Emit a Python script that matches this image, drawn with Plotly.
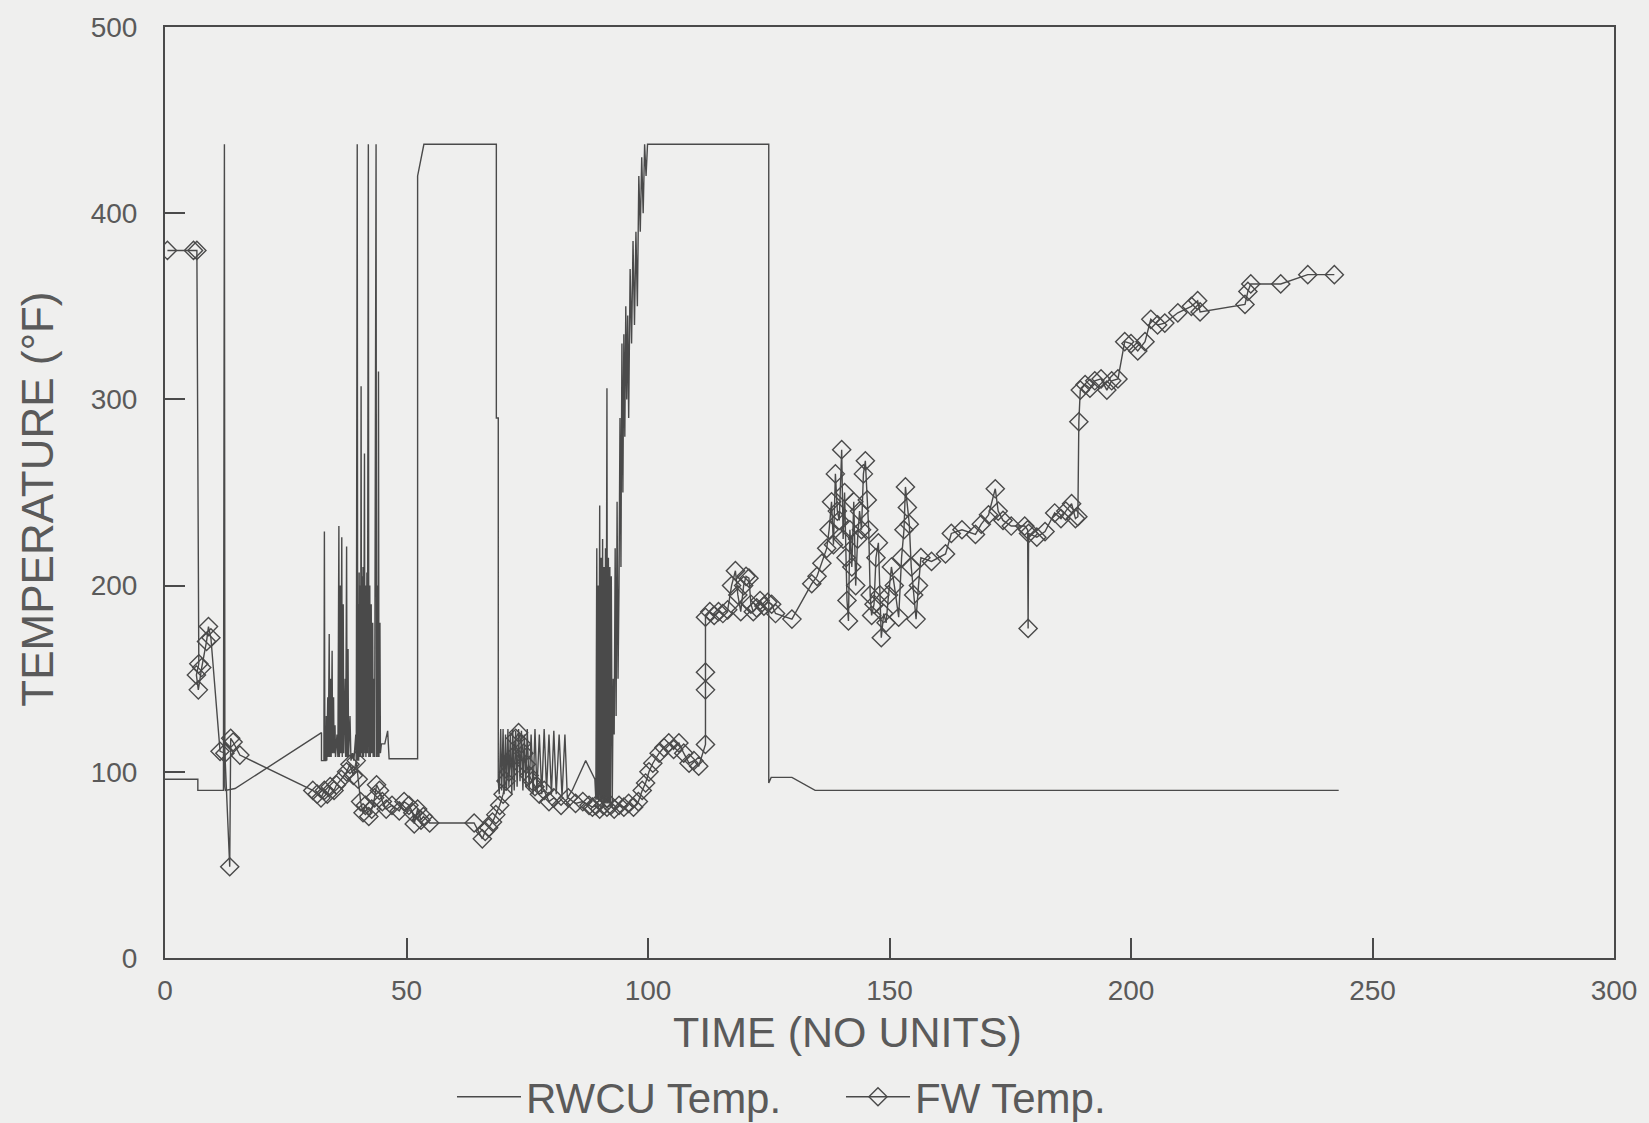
import plotly.graph_objects as go

# ---------------- data ----------------
rwcu_time = [
    0, 6.8, 6.8, 12.1, 12.1, 12.2, 12.3, 12.4, 12.5, 14.5, 32.4, 32.4,
    32.6, 32.9, 33.0, 33.1, 33.3, 33.4, 33.5, 33.7, 33.8, 34.0, 34.1, 34.3, 34.4, 34.6, 34.7,
    34.9, 35.0, 35.2, 35.3, 35.6, 35.8, 36.0, 36.1, 36.3, 36.4, 36.6, 36.7, 36.9, 37.0, 37.3,
    37.4, 37.6, 37.7, 37.9, 38.0, 38.3, 38.5, 38.8, 39.1, 39.5, 39.6,
    39.8, 39.9, 40.0, 40.1, 40.2, 40.3, 40.4, 40.5, 40.6, 40.7, 40.8, 40.9, 41.0, 41.1, 41.3,
    41.4, 41.5, 41.6, 41.8, 41.9, 42.1, 42.2, 42.4, 42.5, 42.7, 42.8, 43.0, 43.1, 43.3, 43.4,
    43.7, 43.8, 44.0, 44.1, 44.2, 44.3, 44.5, 44.6, 44.8,
    45.5, 46.1, 46.4, 52.3, 52.3, 53.0, 53.6, 68.6, 68.6, 69.0, 69.0, 69.2,
    69.5, 69.7, 70.0, 70.2, 70.5, 70.7, 71.0, 71.2, 71.5, 71.8, 72.0, 72.3, 72.6, 72.9, 73.2,
    73.5, 73.8, 74.1, 74.4, 74.7, 75.0, 75.4, 75.8, 76.2, 76.6, 77.0, 77.5, 78.0, 78.5, 79.0,
    79.5, 80.0, 80.5, 81.0, 81.6, 82.2, 82.8, 83.3, 84.3, 87.1, 89.0, 89.2,
    89.4, 89.5, 89.7, 89.8, 90.0, 90.1, 90.3, 90.4, 90.6, 90.7, 90.9, 91.0, 91.2, 91.3, 91.5,
    91.6, 91.8, 91.9, 92.1, 92.2, 92.4, 92.6,
    92.8, 93.0, 93.2, 93.4, 93.6, 93.8, 94.0, 94.2, 94.4, 94.6, 94.8, 95.0, 95.2, 95.4, 95.6,
    95.8, 96.0, 96.3, 96.6, 96.9, 97.2, 97.5, 97.8, 98.1, 98.4, 98.7, 99.0, 99.3, 99.6, 99.9,
    125.0, 125.0, 125.5, 129.8, 134.6, 243.0,
]
rwcu_temp = [
    96, 96, 90, 90, 93, 437, 437, 92, 90, 91, 121, 106,
    106, 106, 229, 106, 106, 130, 106, 140, 108, 174, 108, 150, 108, 165, 110,
    140, 110, 125, 108, 120, 108, 232, 108, 200, 110, 226, 108, 190, 110, 150,
    108, 221, 108, 166, 108, 130, 106, 110, 106, 120, 106,
    437, 106, 190, 106, 207, 108, 200, 108, 307, 110, 205, 108, 210, 108, 271,
    110, 200, 108, 207, 110, 437, 108, 200, 108, 190, 110, 180, 108, 150, 108,
    437, 108, 200, 108, 315, 108, 180, 110, 115,
    115, 122, 107, 107, 420, 430, 437, 437, 290, 290, 95, 88,
    123, 90, 123, 88, 120, 90, 123, 92, 120, 88, 123, 90, 122, 92, 123,
    95, 122, 90, 120, 92, 123, 90, 120, 88, 123, 90, 120, 88, 123, 90,
    120, 88, 122, 88, 120, 87, 120, 86, 90, 106, 96, 85,
    220, 85, 200, 84, 243, 84, 215, 83, 225, 83, 210, 83, 220, 83, 306,
    83, 215, 83, 210, 82, 205, 82,
    150, 120, 220, 130, 245, 150, 200, 290, 210, 330, 250, 335, 280, 350, 300,
    345, 290, 370, 330, 385, 340, 390, 350, 420, 390, 430, 400, 437, 420, 437,
    437, 94, 97, 97, 90, 90,
]

fw_time = [
    0.5, 5.9, 6.6, 7.0, 6.5, 6.9, 7.6, 8.6, 9.0, 9.5, 11.4, 12.4, 13.4, 13.6, 14.1, 15.5,
    30.6, 31.5, 32.3, 33.0, 33.6, 34.2, 35.0, 35.5, 36.5, 37.6, 38.3, 39.0, 39.6, 40.0,
    40.5, 41.0, 41.5, 42.2, 42.8, 43.4, 43.8, 44.4, 45.0, 45.8, 47.0, 48.5, 49.5, 50.5,
    51.3, 51.6, 52.3, 53.0, 53.5, 54.8, 64.0, 65.7, 66.3, 67.0, 67.8, 68.5, 69.3,
    70.0, 70.6, 71.2, 72.0, 72.6, 73.2, 73.8, 74.3, 74.8, 75.4, 76.0, 76.6, 77.5, 78.5,
    79.5, 80.5, 82.0, 83.5, 85.0, 86.5, 87.8, 88.5, 89.2, 90.0, 90.8, 91.5, 92.3, 93.0,
    94.0, 95.0, 96.0, 97.0, 98.0, 98.8, 99.5, 100.2, 101.0, 102.3, 103.3, 104.3, 105.3,
    106.4, 107.4, 108.5, 109.5, 110.5, 111.9, 111.9, 111.9, 111.9,
    112.8, 113.7, 114.6, 115.5, 116.5, 117.3, 118.1, 118.6, 119.2, 119.8, 120.3, 120.9,
    121.3, 121.8, 122.5, 123.2, 124.0, 124.8, 125.6, 126.4, 129.8, 133.9, 135.0, 136.0,
    137.0, 137.5, 138.0, 138.4, 138.8, 139.2, 139.6, 140.1, 140.4, 140.7, 141.0, 141.2,
    141.5, 141.8, 142.2, 142.6, 143.0, 143.4, 143.8, 144.2, 144.6, 145.0, 145.4, 145.7,
    146.0, 146.3, 146.8, 147.2, 147.7, 148.0, 148.3, 148.8, 149.3, 149.8, 150.4, 151.0,
    151.9, 152.5, 153.0, 153.3, 153.7, 154.1, 154.5, 155.0, 155.5, 156.0, 156.5, 158.7,
    161.6, 162.8, 165.0, 167.8, 169.0, 170.5, 171.9, 172.5, 173.5, 175.2, 178.0, 178.6,
    178.7, 178.8, 180.5, 182.2, 184.2, 185.5, 186.5, 187.7, 188.5, 189.0, 189.2, 189.5,
    190.5, 191.5, 192.5, 193.8, 195.0, 196.0, 197.3, 198.7, 200.0, 201.4, 202.9, 204.1,
    205.5, 207.0, 209.7, 212.5, 213.8, 214.3, 223.6, 224.2, 224.8, 231.0, 236.6, 242.1,
]
fw_temp = [
    380, 380, 380, 158, 152, 144, 156, 170, 178, 172, 111, 110, 49, 118, 116, 109,
    90, 88, 86, 90, 88, 92, 90, 93, 96, 100, 104, 98, 106, 96,
    84, 78, 82, 76, 80, 86, 93, 90, 84, 80, 82, 79, 84, 82,
    78, 72, 80, 74, 76, 72.5, 72.5, 64, 68, 70, 73, 77, 82,
    88, 95, 100, 108, 118, 121, 115, 110, 104, 98, 95, 92, 88, 90,
    84, 86, 82, 86, 83, 84, 82, 81, 82, 80, 82, 81, 82, 80,
    82, 81, 83, 81, 84, 90, 94, 100, 104.6, 110, 113, 115.5, 112,
    115.5, 110, 104.6, 106, 103, 114.7, 144, 153.5, 183,
    186, 184, 186, 185, 187, 200, 208, 195, 186, 200, 205, 204,
    190, 186, 188, 192, 189, 191, 190, 185, 182, 201, 205, 212,
    220, 230, 245, 222, 260, 240, 235, 273, 225, 250, 215, 192,
    181, 230, 210, 245, 200, 225, 240, 230, 260, 267, 246, 230,
    195, 184, 190, 215, 223, 195, 172, 185, 180, 195, 210, 200,
    183, 215, 230, 253, 242, 233, 210, 195, 182, 200, 215, 213,
    217, 228, 230, 227.5, 233, 238, 252, 240, 235, 232, 232, 230,
    177, 228, 226, 229, 239, 236, 240, 244, 236, 237, 288, 305,
    308, 306, 310, 311, 305, 310, 311, 331, 330, 326, 331, 343,
    340, 341, 346.5, 350, 353, 347, 351, 358, 362, 362, 367, 367,
]

x_ticks = [0, 50, 100, 150, 200, 250, 300]
y_ticks = [0, 100, 200, 300, 400, 500]

# ---------------- styling ----------------
INK = "#4a4a4a"
TXT = "#5a5a5a"
BG = "#efefee"
FONT = "Liberation Sans, Arial, sans-serif"

fig = go.Figure()
fig.add_trace(go.Scatter(
    x=rwcu_time, y=rwcu_temp, mode="lines", name="RWCU Temp.",
    line=dict(color=INK, width=1.4),
))
fig.add_trace(go.Scatter(
    x=fw_time, y=fw_temp, mode="lines+markers", name="FW Temp.",
    line=dict(color=INK, width=1.4),
    marker=dict(symbol="diamond-open", size=14, color=INK, line=dict(width=1.4, color=INK)),
))

axis_common = dict(
    showline=True, mirror=True, linecolor=INK, linewidth=2,
    ticks="inside", ticklen=20, tickwidth=1.5, tickcolor=INK,
    showgrid=False, zeroline=False, ticklabeloverflow="allow",
    tickfont=dict(family=FONT, size=28, color=TXT),
)
fig.update_xaxes(range=[0, 300], tickvals=x_ticks, ticktext=[str(v) for v in x_ticks],
                 ticklabelstandoff=6, **axis_common)
fig.update_yaxes(range=[0, 500], tickvals=y_ticks, ticktext=[str(v) for v in y_ticks],
                 ticklabelstandoff=20, **axis_common)

fig.add_annotation(text="TIME (NO UNITS)", xref="paper", yref="paper",
                   x=0.471, y=-0.079, xanchor="center", yanchor="middle",
                   showarrow=False, font=dict(family=FONT, size=43, color=TXT))
fig.add_annotation(text="TEMPERATURE (°F)", xref="paper", yref="paper",
                   x=-0.0882, y=0.4925, xanchor="center", yanchor="middle", textangle=-90,
                   showarrow=False, font=dict(family=FONT, size=44, color=TXT))

fig.update_layout(
    width=1649, height=1123,
    margin=dict(l=165, r=32, t=22, b=165),
    paper_bgcolor=BG, plot_bgcolor=BG,
    showlegend=True,
    legend=dict(orientation="h", xref="container", yref="container",
                x=0.510, y=0.0232, xanchor="center", yanchor="middle",
                font=dict(family=FONT, size=42, color=TXT), itemwidth=64,
                entrywidth=310,
                bgcolor="rgba(0,0,0,0)"),
)

fig.write_html("out.html", config={"displayModeBar": False},
               post_script="document.body.style.margin='0';")
